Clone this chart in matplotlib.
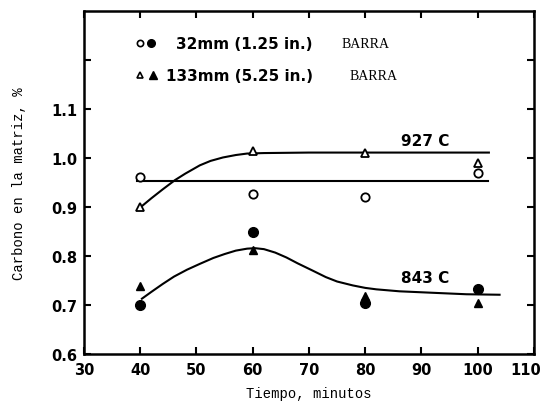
import matplotlib
matplotlib.use("Agg")
import matplotlib.pyplot as plt
import matplotlib.transforms as mtransforms

# ---- data ----
tiempo = [40, 60, 80, 100]

# 927 C (open markers)
c32_927 = [0.962, 0.927, 0.921, 0.970]
c133_927 = [0.899, 1.015, 1.011, 0.989]

# 843 C (filled markers)
c32_843 = [0.700, 0.848, 0.705, 0.733]
c133_843 = [0.738, 0.812, 0.718, 0.705]

# hand-drawn trend curves
curva927_x = [40, 42, 44, 46.2, 48, 50.6, 52.5, 54.7, 57, 59, 62, 70, 80, 90, 102]
curva927_y = [0.899, 0.918, 0.936, 0.955, 0.968, 0.985, 0.994, 1.001, 1.006, 1.009, 1.010, 1.011, 1.011, 1.011, 1.011]

linea_x = [39.4, 101.8]
linea_y = [0.953, 0.953]

curva843_x = [40.3, 42, 44, 46, 48.3, 50.6, 53, 55, 57, 59, 60.4, 62, 64, 66, 68, 70.7,
              73, 75, 77.8, 80, 82, 86.1, 92, 98, 103.9]
curva843_y = [0.713, 0.727, 0.743, 0.758, 0.772, 0.784, 0.796, 0.804, 0.811, 0.815, 0.816,
              0.814, 0.807, 0.797, 0.785, 0.770, 0.757, 0.748, 0.740, 0.735, 0.732,
              0.728, 0.725, 0.722, 0.721]

fig = plt.figure(figsize=(5.47, 4.10), dpi=100)
ax = fig.add_axes([0.1536, 0.134, 0.8224, 0.837])

ax.plot(curva927_x, curva927_y, color="black", lw=1.5)
ax.plot(linea_x, linea_y, color="black", lw=1.5)
ax.plot(curva843_x, curva843_y, color="black", lw=1.5)

ms = 6
ax.plot(tiempo, c32_927, "o", mfc="white", mec="black", mew=1.3, ms=ms, ls="none")
ax.plot(tiempo, c133_927, "^", mfc="white", mec="black", mew=1.3, ms=ms, ls="none")
ax.plot(tiempo, c32_843, "o", color="black", ms=ms + 1, ls="none")
ax.plot(tiempo, c133_843, "^", color="black", ms=ms, ls="none")

ax.set_xlim(30, 110)
ax.set_ylim(0.6, 1.3)
ax.set_xticks([30, 40, 50, 60, 70, 80, 90, 100, 110])
ax.set_xticklabels(["30", "40", "50", "60", "70", "80", "90", "100", "110"])
ax.set_yticks([0.6, 0.7, 0.8, 0.9, 1.0, 1.1, 1.2])
ax.set_yticklabels(["0.6", "0.7", "0.8", "0.9", "1.0", "1.1", ""])
ax.tick_params(direction="in", length=5, width=1.5, top=True, right=True,
               labelsize=10.5)
ax.tick_params(axis="x", pad=6)
ax.tick_params(axis="y", pad=5)
for lab in ax.get_xticklabels() + ax.get_yticklabels():
    lab.set_fontweight("bold")
for s in ax.spines.values():
    s.set_linewidth(1.8)

# the last label sits a little left of its tick, as in the original
last = ax.get_xticklabels()[-1]
last.set_transform(last.get_transform() +
                   mtransforms.ScaledTranslation(-6 / 72, 0, fig.dpi_scale_trans))

ax.set_xlabel("Tiempo, minutos", family="Liberation Mono", fontsize=10, labelpad=6)
ax.set_ylabel("Carbono en la matriz, %", family="Liberation Mono", fontsize=10, labelpad=18)

# legend, written as in the original drawing
ax.plot([40], [1.234], "o", mfc="white", mec="black", mew=1.2, ms=4.5)
ax.plot([41.9], [1.234], "o", color="black", ms=5.5)
ax.text(46.3, 1.234, "32mm (1.25 in.)", fontsize=11, fontweight="bold", va="center")
ax.text(75.8, 1.234, "BARRA", family="Liberation Serif", fontsize=10, va="center")
ax.plot([40], [1.169], "^", mfc="white", mec="black", mew=1.2, ms=4.5)
ax.plot([42.3], [1.169], "^", color="black", ms=5.5)
ax.text(44.6, 1.169, "133mm (5.25 in.)", fontsize=11, fontweight="bold", va="center")
ax.text(77.3, 1.169, "BARRA", family="Liberation Serif", fontsize=10, va="center")

ax.text(86.3, 1.036, "927 C", fontsize=11, fontweight="bold", va="center")
ax.text(86.3, 0.757, "843 C", fontsize=11, fontweight="bold", va="center")

fig.savefig("out.png", dpi=100)
